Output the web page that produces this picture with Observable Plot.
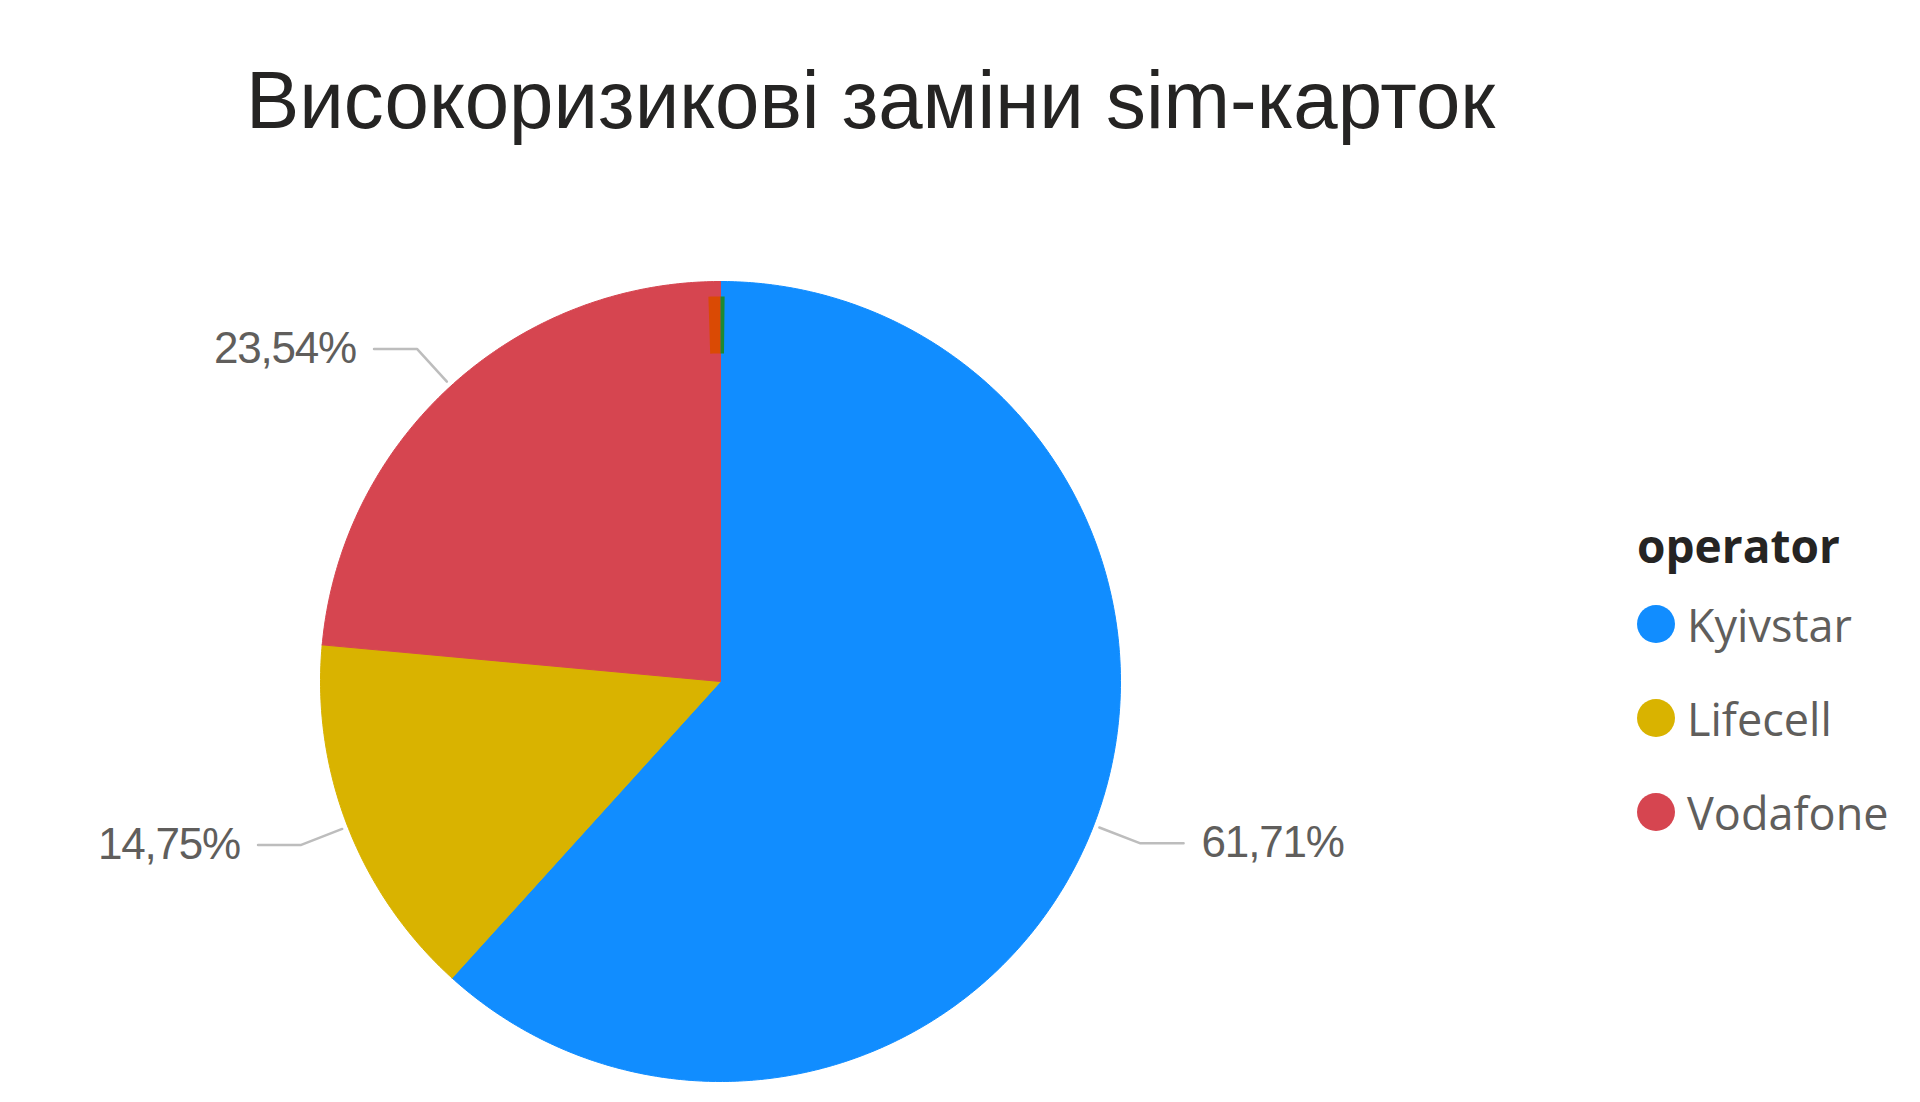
<!DOCTYPE html>
<html><head><meta charset="utf-8">
<script src="https://cdn.jsdelivr.net/npm/d3@7"></script>
<script src="https://cdn.jsdelivr.net/npm/@observablehq/plot@0.6"></script>
<style>
html,body{margin:0;padding:0;background:#fff;width:1920px;height:1102px;overflow:hidden;position:relative;}
#title{position:absolute;left:246px;top:60px;font-family:"Liberation Sans Narrow","Arial Narrow","Liberation Sans",sans-serif;font-size:81px;line-height:1;color:#252423;white-space:nowrap;transform:scaleX(0.985);transform-origin:left top;}
#chart{position:absolute;left:0;top:160px;}
#chart text{letter-spacing:-1.2px;}
#legend{position:absolute;left:1637px;top:513px;font-family:"Open Sans",sans-serif;color:#605E5C;}
#legend .lt{font-weight:700;font-size:46px;line-height:64px;color:#252423;}
#legend .it{display:flex;align-items:center;height:94px;font-size:45px;}
#legend .sw{width:38px;height:38px;border-radius:50%;margin-right:12px;flex:none;}
</style></head>
<body>
<div id="title"></div>
<div id="chart"></div>
<div id="legend"></div>
<script>
// ---- data ----
const chartTitle = "Високоризикові заміни sim-карток";
const legendTitle = "operator";
const operators = ["Kyivstar", "Lifecell", "Vodafone"];
const shares = [61.71, 14.75, 23.54];
const colors = ["#118DFF", "#D9B300", "#D64550"];
// tiny overlay marks visible at the top of the pie
const overlayNames = ["mark A", "mark B"];
const overlayStart = [-0.5, 0];
const overlayShare = [0.5, 0.17];
const overlayColors = ["#DA4A04", "#1E8A32"];

document.getElementById("title").textContent = chartTitle;

const TAU = 2 * Math.PI;
function sector(name, startPct, pct, r0, r1) {
  const a0 = startPct / 100 * TAU, a1 = (startPct + pct) / 100 * TAU;
  const n = Math.max(2, Math.ceil((a1 - a0) / (Math.PI / 360)));
  const pts = [];
  for (let k = 0; k <= n; k++) { const a = a0 + (a1 - a0) * k / n; pts.push({name, x: r1 * Math.sin(a), y: r1 * Math.cos(a)}); }
  if (r0 === 0) pts.push({name, x: 0, y: 0});
  else for (let k = n; k >= 0; k--) { const a = a0 + (a1 - a0) * k / n; pts.push({name, x: r0 * Math.sin(a), y: r0 * Math.cos(a)}); }
  pts.push(pts[0]);
  return pts;
}

const slices = [], leaders = [], labels = [];
let cum = 0;
operators.forEach((op, i) => {
  slices.push(...sector(op, cum, shares[i], 0, 1));
  const m = (cum + shares[i] / 2) / 100 * TAU;
  cum += shares[i];
  const side = Math.sin(m) >= 0 ? 1 : -1;
  const ex = 1.125 * Math.sin(m), ey = 1.125 * Math.cos(m);
  leaders.push({op, x: 1.015 * Math.sin(m), y: 1.015 * Math.cos(m)});
  leaders.push({op, x: ex, y: ey});
  leaders.push({op, x: ex + side * 0.108, y: ey});
  labels.push({op, x: ex + side * (0.108 + 0.045), y: ey, side,
    text: shares[i].toFixed(2).replace(".", ",") + "%"});
});
const overlay = [];
overlayNames.forEach((n, i) => overlay.push(...sector(n, overlayStart[i], overlayShare[i], 0.82, 0.9625)));

const plot = Plot.plot({
  width: 1920, height: 942, margin: 0,
  x: {domain: [-1.8, 3.0], axis: null},
  y: {domain: [-1.0525, 1.3025], axis: null},
  color: {domain: [...operators, ...overlayNames], range: [...colors, ...overlayColors]},
  style: {background: "transparent"},
  marks: [
    Plot.line(slices, {x: "x", y: "y", z: "name", fill: "name", stroke: "name", strokeWidth: 1}),
    Plot.line(overlay, {x: "x", y: "y", z: "name", fill: "name", stroke: null}),
    Plot.line(leaders, {x: "x", y: "y", z: "op", stroke: "#BDBDBD", strokeWidth: 2.5}),
    Plot.text(labels.filter(d => d.side < 0), {x: "x", y: "y", text: "text", textAnchor: "end", fill: "#605E5C", fontSize: 44, fontFamily: "Liberation Sans Narrow, Arial Narrow, Liberation Sans, sans-serif"}),
    Plot.text(labels.filter(d => d.side > 0), {x: "x", y: "y", text: "text", textAnchor: "start", fill: "#605E5C", fontSize: 44, fontFamily: "Liberation Sans Narrow, Arial Narrow, Liberation Sans, sans-serif"})
  ]
});
document.getElementById("chart").appendChild(plot);

const color = plot.scale("color");
const lg = document.getElementById("legend");
const lt = document.createElement("div"); lt.className = "lt"; lt.textContent = legendTitle; lg.appendChild(lt);
operators.forEach((op, i) => {
  const it = document.createElement("div"); it.className = "it";
  const sw = document.createElement("span"); sw.className = "sw"; sw.style.background = color.range[i];
  const tx = document.createElement("span"); tx.textContent = op;
  it.appendChild(sw); it.appendChild(tx); lg.appendChild(it);
});
</script>
</body></html>
